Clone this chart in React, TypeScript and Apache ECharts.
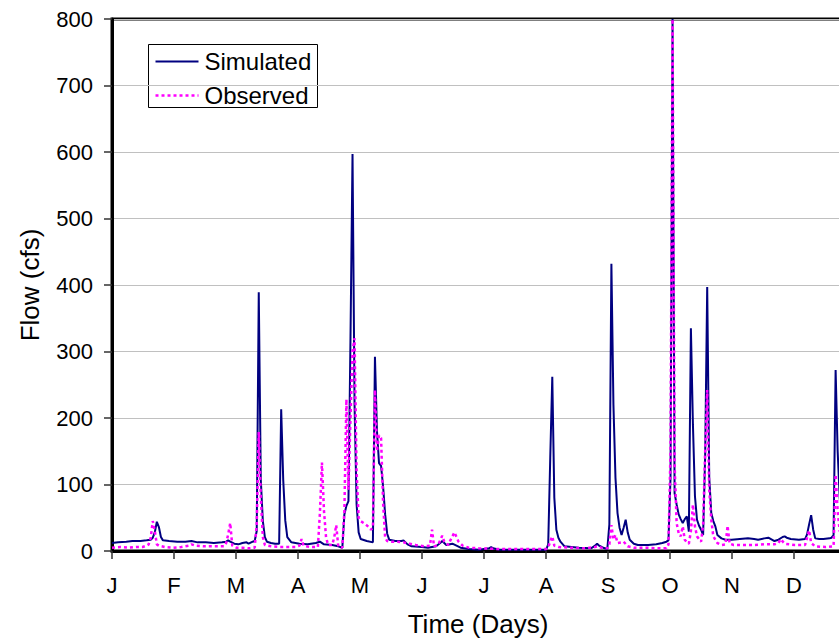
import React, { useEffect, useRef } from "react";
import * as echarts from "echarts";

const monthLabels = ["J", "F", "M", "A", "M", "J", "J", "A", "S", "O", "N", "D"];
const yTicks = [0, 100, 200, 300, 400, 500, 600, 700, 800];
const seriesNames = ["Simulated", "Observed"];

const simDays = [0, 3, 7, 10, 14, 17, 19, 20, 21, 22, 23, 24, 25, 28, 32, 36, 39, 42, 46, 50, 54, 56, 57, 58, 60, 62, 64, 66, 67, 69, 70, 71, 72, 73, 74, 75, 76, 78, 80, 82, 83, 84, 85, 86, 88, 92, 96, 100, 102, 104, 108, 111, 113, 114, 115, 116, 117, 118, 119, 120, 121, 122, 125, 128, 129, 130, 131, 132, 133, 134, 135, 136, 139, 142, 143, 145, 147, 152, 155, 159, 161, 162, 163, 164, 167, 169, 171, 175, 180, 185, 186, 187, 190, 200, 213, 214, 215, 216, 217, 218, 219, 220, 222, 229, 235, 237, 238, 239, 241, 243, 244, 245, 246, 247, 248, 249, 250, 251, 252, 253, 254, 256, 258, 263, 267, 270, 272, 273, 274, 275, 276, 277, 278, 279, 280, 281, 282, 283, 284, 285, 286, 287, 288, 289, 290, 291, 292, 293, 294, 295, 296, 297, 299, 301, 304, 308, 312, 315, 317, 320, 322, 325, 327, 329, 330, 331, 333, 337, 340, 341, 342, 343, 344, 345, 347, 349, 352, 353, 354, 355, 356, 357, 358, 360, 362, 364];
const simFlow = [12, 13, 14, 15, 15, 16, 17, 20, 28, 44, 36, 21, 16, 15, 14, 14, 15, 13, 13, 12, 13, 14, 16, 14, 11, 10, 12, 13, 11, 14, 15, 30, 389, 107, 45, 21, 14, 12, 11, 11, 213, 107, 46, 21, 13, 11, 10, 12, 14, 10, 9, 7, 5, 55, 68, 75, 320, 597, 220, 70, 28, 18, 15, 13, 292, 180, 132, 128, 97, 55, 26, 17, 15, 15, 16, 10, 7, 6, 5, 7, 12, 15, 12, 9, 11, 8, 5, 3, 2, 4, 6, 4, 2, 2, 2, 10, 140, 262, 80, 32, 20, 14, 7, 5, 4, 8, 11, 8, 5, 3, 40, 432, 220, 110, 57, 35, 24, 35, 47, 28, 17, 11, 9, 9, 10, 12, 14, 16, 110, 800, 87, 70, 55, 48, 42, 48, 52, 29, 335, 190, 82, 47, 38, 32, 24, 143, 397, 110, 57, 45, 37, 24, 19, 17, 17, 18, 19, 18, 17, 19, 20, 15, 17, 21, 22, 20, 18, 17, 18, 25, 40, 54, 32, 19, 18, 18, 19, 20, 24, 272, 150, 80, 45, 28, 22, 20];

const obsDays = [0, 4, 8, 12, 15, 17, 18, 19, 20, 21, 22, 23, 26, 30, 34, 38, 39, 41, 45, 50, 55, 56, 57, 58, 59, 61, 64, 67, 70, 71, 72, 73, 74, 75, 78, 82, 86, 90, 92, 93, 94, 97, 101, 102, 103, 104, 105, 106, 108, 109, 110, 111, 113, 114, 115, 116, 117, 118, 119, 120, 121, 122, 124, 126, 127, 128, 129, 130, 131, 132, 133, 134, 135, 137, 140, 143, 146, 149, 153, 156, 157, 158, 160, 162, 163, 165, 166, 168, 170, 172, 175, 180, 190, 200, 213, 214, 215, 216, 217, 219, 225, 232, 237, 238, 240, 243, 244, 245, 246, 247, 248, 250, 251, 253, 256, 262, 268, 272, 273, 274, 275, 276, 277, 278, 279, 280, 281, 282, 283, 284, 285, 286, 287, 289, 290, 291, 292, 293, 294, 295, 297, 299, 301, 302, 303, 305, 310, 315, 320, 325, 327, 328, 330, 335, 340, 341, 342, 343, 345, 350, 354, 355, 356, 357, 360, 364];
const obsFlow = [5, 6, 5, 6, 6, 8, 10, 20, 45, 30, 10, 8, 6, 5, 6, 8, 10, 8, 7, 7, 7, 12, 25, 42, 8, 5, 5, 4, 5, 40, 179, 82, 21, 9, 7, 6, 6, 6, 8, 18, 8, 6, 6, 57, 133, 60, 21, 9, 9, 20, 39, 7, 5, 60, 228, 92, 200, 300, 320, 120, 50, 45, 41, 36, 32, 35, 242, 150, 174, 170, 72, 20, 15, 14, 14, 13, 11, 9, 7, 8, 32, 7, 9, 23, 14, 9, 16, 28, 14, 8, 5, 4, 3, 3, 3, 5, 15, 22, 8, 6, 5, 4, 6, 7, 5, 4, 10, 39, 17, 24, 12, 13, 14, 7, 5, 5, 4, 4, 10, 150, 800, 132, 42, 27, 22, 37, 17, 13, 11, 30, 70, 37, 22, 14, 40, 150, 242, 92, 47, 22, 12, 9, 10, 38, 11, 9, 9, 9, 10, 10, 12, 18, 11, 9, 9, 20, 31, 12, 7, 6, 7, 115, 60, 30, 15, 10];

const FONT = "'Liberation Sans', Arial, Helvetica, sans-serif";
const SIM_COLOR = "#000080";
const OBS_COLOR = "#ff00ff";

export default function App() {
  const ref = useRef<HTMLDivElement>(null);

  useEffect(() => {
    if (!ref.current) return;
    const chart = echarts.init(ref.current, undefined, { renderer: "svg" });
    const monthLen = 365 / 12;
    const sim = simDays.map((d, i) => [d, simFlow[i]]);
    const obs = obsDays.map((d, i) => [d, obsFlow[i]]);
    chart.setOption({
      animation: false,
      backgroundColor: "#ffffff",
      grid: {
        left: 112,
        top: 19,
        right: 0,
        bottom: 89,
        show: true,
        borderColor: "#000",
        borderWidth: 3,
        backgroundColor: "transparent",
      },
      xAxis: {
        type: "value",
        min: 0,
        max: 365,
        interval: monthLen,
        axisLine: { show: true, lineStyle: { color: "#000", width: 3 } },
        axisTick: { show: true, length: 8, lineStyle: { color: "#333", width: 1.5 } },
        splitLine: { show: false },
        axisLabel: {
          margin: 23,
          color: "#000",
          fontSize: 22,
          fontFamily: FONT,
          formatter: (v: number) => {
            const idx = Math.round(v / monthLen);
            return monthLabels[idx] ?? "";
          },
        },
      },
      yAxis: {
        type: "value",
        min: yTicks[0],
        max: yTicks[yTicks.length - 1],
        interval: 100,
        axisLine: { show: true, lineStyle: { color: "#000", width: 3 } },
        axisTick: { show: true, length: 8, lineStyle: { color: "#333", width: 1.5 } },
        splitLine: { show: true, lineStyle: { color: "#c0c0c0", width: 1 } },
        axisLabel: { margin: 19, color: "#000", fontSize: 22, fontFamily: FONT },
      },
      graphic: [
        {
          type: "text",
          x: 30,
          y: 285,
          rotation: Math.PI / 2,
          style: {
            text: "Flow (cfs)",
            font: `26px ${FONT}`,
            fill: "#000",
            align: "center",
            verticalAlign: "middle",
          },
        },
        {
          type: "text",
          x: 478,
          y: 624,
          style: {
            text: "Time (Days)",
            font: `26px ${FONT}`,
            fill: "#000",
            align: "center",
            verticalAlign: "middle",
          },
        },
        {
          type: "group",
          left: 148,
          top: 44,
          z: 100,
          children: [
            {
              type: "rect",
              shape: { x: 0, y: 0, width: 169, height: 63 },
              style: { fill: "#fff", stroke: "#000", lineWidth: 1 },
            },
            {
              type: "line",
              shape: { x1: 7, y1: 17, x2: 50, y2: 17 },
              style: { stroke: SIM_COLOR, lineWidth: 2 },
            },
            {
              type: "text",
              x: 56,
              y: 17,
              style: {
                text: seriesNames[0],
                font: `24px ${FONT}`,
                fill: "#000",
                verticalAlign: "middle",
              },
            },
            {
              type: "line",
              shape: { x1: 7, y1: 51, x2: 50, y2: 51 },
              style: { stroke: OBS_COLOR, lineWidth: 2.5, lineDash: [3, 3] },
            },
            {
              type: "text",
              x: 56,
              y: 51,
              style: {
                text: seriesNames[1],
                font: `24px ${FONT}`,
                fill: "#000",
                verticalAlign: "middle",
              },
            },
          ],
        },
      ],
      series: [
        {
          name: seriesNames[0],
          type: "line",
          data: sim,
          symbol: "none",
          lineStyle: { color: SIM_COLOR, width: 2 },
          itemStyle: { color: SIM_COLOR },
          z: 2,
        },
        {
          name: seriesNames[1],
          type: "line",
          data: obs,
          symbol: "none",
          lineStyle: { color: OBS_COLOR, width: 2.5, type: [3, 3] },
          itemStyle: { color: OBS_COLOR },
          z: 3,
        },
      ],
    });
    return () => chart.dispose();
  }, []);

  return (
    <div
      style={{
        position: "fixed",
        left: 0,
        top: 0,
        width: 839,
        height: 640,
        overflow: "hidden",
        background: "#fff",
      }}
    >
      <div ref={ref} style={{ width: 859, height: 640 }} />
    </div>
  );
}
